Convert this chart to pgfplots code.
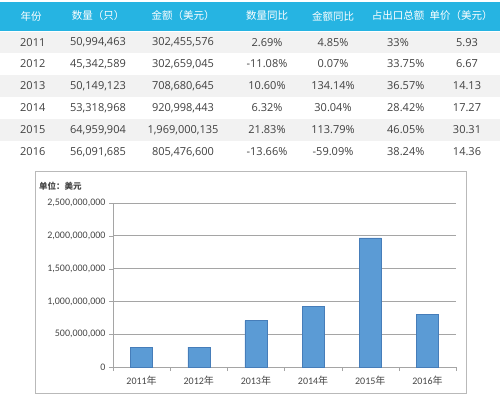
\documentclass[border=0pt]{standalone}
\usepackage{pgfplots}
\pgfplotsset{compat=1.18}
\usepackage{fontspec}
\setmainfont{Open Sans}
\newfontfamily\cjk{Noto Sans CJK SC}
\newfontfamily\chartf{Carlito}
\definecolor{hdr}{RGB}{38,180,226}
\definecolor{rowgray}{RGB}{242,242,242}
\definecolor{txt}{RGB}{64,64,64}
\definecolor{ctxt}{RGB}{70,70,70}
\definecolor{gridc}{RGB}{165,165,165}
\definecolor{framec}{RGB}{185,185,185}
\definecolor{barc}{RGB}{91,155,213}
\definecolor{bare}{RGB}{70,125,185}
\newcommand\trow[8]{%
\node[anchor=west] at (20,#1) {#2};
\node at (98,#1) {#3};
\node at (183,#1) {#4};
\node at (267,#1) {#5};
\node at (333,#1) {#6};
\node[anchor=west] at (387,#1) {#7};
\node at (467,#1) {#8};}
\begin{document}
\begin{tikzpicture}[x=1bp,y=1bp]
\path[use as bounding box] (0,0) rectangle (500,397);
% table header
\fill[hdr] (0,395) rectangle (500,366);
% alternating rows
\fill[rowgray] (0,365) rectangle (500,344);
\fill[rowgray] (0,322) rectangle (500,300);
\fill[rowgray] (0,278) rectangle (500,256);
% header text
\begin{scope}[every node/.style={text=white,font=\cjk\fontsize{10.5bp}{12bp}\selectfont,inner sep=0pt}]
\node at (31,381) {年份};
\node at (98,381) {数量（只）};
\node at (183,381) {金额（美元）};
\node at (267,381) {数量同比};
\node at (333,381) {金额同比};
\node at (398,381) {占出口总额};
\node at (461,381) {单价（美元）};
\end{scope}
% table body
\begin{scope}[every node/.style={text=txt,font=\fontsize{11bp}{13bp}\selectfont,inner sep=0pt}]
\trow{354.5}{2011}{50,994,463}{302,455,576}{2.69\%}{4.85\%}{33\%}{5.93}
\trow{333}{2012}{45,342,589}{302,659,045}{-11.08\%}{0.07\%}{33.75\%}{6.67}
\trow{311}{2013}{50,149,123}{708,680,645}{10.60\%}{134.14\%}{36.57\%}{14.13}
\trow{289}{2014}{53,318,968}{920,998,443}{6.32\%}{30.04\%}{28.42\%}{17.27}
\trow{267}{2015}{64,959,904}{1,969,000,135}{21.83\%}{113.79\%}{46.05\%}{30.31}
\trow{245}{2016}{56,091,685}{805,476,600}{-13.66\%}{-59.09\%}{38.24\%}{14.36}
\end{scope}
% chart frame
\draw[framec,line width=0.8bp] (35.5,226) rectangle (466.5,4);
\node[anchor=west,inner sep=0pt,text=ctxt,font=\cjk\bfseries\fontsize{8.5bp}{10bp}\selectfont] at (39,211) {单位：美元};
\begin{axis}[
  at={(113bp,30bp)}, anchor=south west, scale only axis,
  width=343bp, height=164bp,
  xmin=-0.5, xmax=5.5, ymin=0, ymax=2.5e9,
  ybar, bar width=22bp,
  axis x line*=bottom, axis y line*=left,
  axis line style={draw=gridc,-},
  xtick={0,1,2,3,4,5},
  xticklabels={{2011}{\cjk 年},{2012}{\cjk 年},{2013}{\cjk 年},{2014}{\cjk 年},{2015}{\cjk 年},{2016}{\cjk 年}},
  major x tick style={draw=none},
  minor xtick={-0.5,0.5,1.5,2.5,3.5,4.5,5.5},
  minor tick length=4bp, major tick length=4bp,
  tick align=outside,
  tick style={draw=gridc},
  ytick={0,500000000,1000000000,1500000000,2000000000,2500000000},
  ymajorgrids, grid style={draw=gridc,line width=0.8bp},
  scaled y ticks=false,
  tick label style={font=\chartf\fontsize{10bp}{12bp}\selectfont,text=ctxt},
  yticklabel style={/pgf/number format/.cd, fixed, 1000 sep={,}, assume math mode=true},
  xticklabel style={yshift=-2bp},
]
\addplot[fill=barc,draw=bare,line width=0.5bp] coordinates {
(0,302455576) (1,302659045) (2,708680645) (3,920998443) (4,1969000135) (5,805476600)};
\end{axis}
\end{tikzpicture}
\end{document}
